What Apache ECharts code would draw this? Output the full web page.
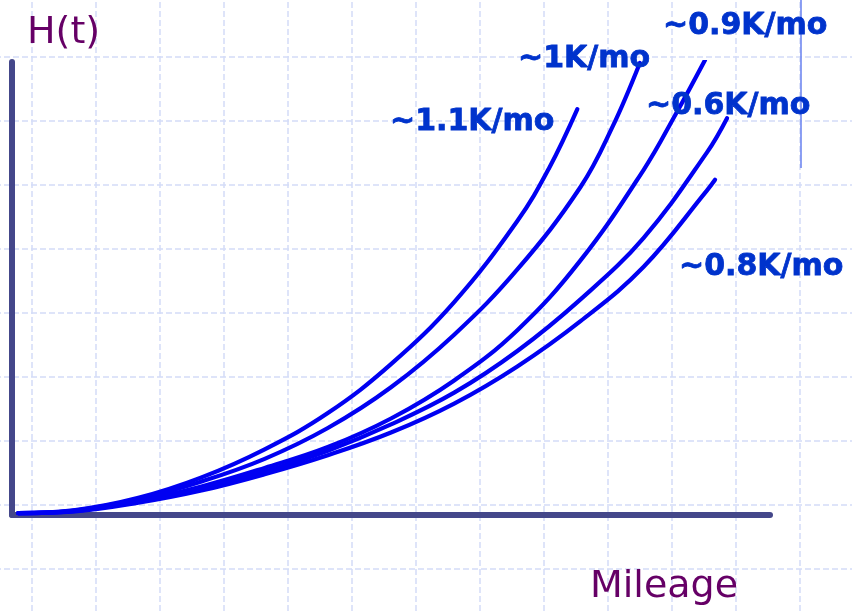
<!DOCTYPE html>
<html>
<head>
<meta charset="utf-8">
<script src="https://cdn.jsdelivr.net/npm/echarts@6/dist/echarts.min.js"></script>
<style>
html,body{margin:0;padding:0;background:#fff;}
#chart{width:852px;height:612px;}
</style>
</head>
<body>
<div id="chart"></div>
<script>
// ---- data (arbitrary units) ----
const seriesNames = ['~1.1K/mo', '~1K/mo', '~0.9K/mo', '~0.6K/mo', '~0.8K/mo'];

const mileageA = [0.1, 1, 2, 3, 4, 5, 6, 7, 8, 8.5, 8.95];
const hazardA  = [0.04, 0.11, 0.38, 0.83, 1.45, 2.25, 3.33, 4.70, 6.49, 7.65, 8.96];

const mileageB = [0.1, 1, 2, 3, 4, 5, 6, 7, 8, 9, 9.5, 9.94];
const hazardB  = [0.04, 0.10, 0.35, 0.74, 1.24, 1.92, 2.82, 3.98, 5.42, 7.24, 8.55, 9.98];

const mileageC = [0.1, 1, 2, 3, 4, 5, 6, 7, 8, 9, 10, 10.5, 10.97];
const hazardC  = [0.04, 0.09, 0.31, 0.63, 1.04, 1.50, 2.13, 2.97, 4.08, 5.62, 7.62, 8.83, 10.04];

const mileageD = [0.1, 1, 2, 3, 4, 5, 6, 7, 8, 9, 10, 11, 11.32];
const hazardD  = [0.04, 0.09, 0.29, 0.58, 0.96, 1.42, 2.00, 2.70, 3.62, 4.76, 6.12, 8.00, 8.76];

const mileageE = [0.1, 1, 2, 3, 4, 5, 6, 7, 8, 9, 10, 11, 11.13];
const hazardE  = [0.04, 0.08, 0.27, 0.54, 0.90, 1.32, 1.82, 2.46, 3.28, 4.28, 5.48, 7.16, 7.40];

const xAxisTitle = 'Mileage';
const yAxisTitle = 'H(t)';

// ---- build ----
function pairs(xs, ys) { return xs.map((x, i) => [x, ys[i]]); }
const curves = [
  pairs(mileageA, hazardA),
  pairs(mileageB, hazardB),
  pairs(mileageC, hazardC),
  pairs(mileageD, hazardD),
  pairs(mileageE, hazardE)
];

const labelPos = [
  [390, 122], [518, 59], [663, 26], [646, 106], [679, 267]
];

const lineColor = '#0000f2';
const labelColor = '#0033cc';
const axisColor = '#44478a';
const titleColor = '#660066';

const chart = echarts.init(document.getElementById('chart'), null, {renderer: 'canvas'});

const option = {
  animation: false,
  backgroundColor: '#ffffff',
  grid: [
    {left: -32, top: -7, width: 896, height: 640, outerBoundsMode: 'none', containLabel: false, z: 0},
    {left: 12, top: 62, right: 82, bottom: 97, outerBoundsMode: 'none', containLabel: false}
  ],
  xAxis: [
    {gridIndex: 0, type: 'value', min: 0, max: 14, interval: 1, z: 0,
     axisLine: {show: false}, axisTick: {show: false}, axisLabel: {show: false},
     splitLine: {show: true, lineStyle: {color: '#d3dbf8', width: 1.5, type: [6, 3]}}},
    {gridIndex: 1, type: 'value', min: 0, max: 12, z: 1,
     axisLine: {show: true, lineStyle: {color: axisColor, width: 6}},
     axisTick: {show: false}, axisLabel: {show: false}, splitLine: {show: false}}
  ],
  yAxis: [
    {gridIndex: 0, type: 'value', min: 0, max: 10, interval: 1, z: 0,
     axisLine: {show: false}, axisTick: {show: false}, axisLabel: {show: false},
     splitLine: {show: true, lineStyle: {color: '#d3dbf8', width: 1.5, type: [6, 3]}}},
    {gridIndex: 1, type: 'value', min: 0, max: 10, z: 1,
     axisLine: {show: true, lineStyle: {color: axisColor, width: 6}},
     axisTick: {show: false}, axisLabel: {show: false}, splitLine: {show: false}}
  ],
  series: curves.map((d, i) => ({
    name: seriesNames[i],
    type: 'line',
    xAxisIndex: 1,
    yAxisIndex: 1,
    data: d,
    smooth: 0.4,
    showSymbol: false,
    z: 3,
    lineStyle: {color: lineColor, width: 4.2, cap: 'round'}
  })),
  graphic: [
    {type: 'line', z: 1, shape: {x1: 801, y1: 0, x2: 801, y2: 168},
     style: {stroke: '#7088f0', lineWidth: 1.6}},
    {type: 'text', left: 27, top: 14, z: 5,
     style: {text: yAxisTitle, fill: titleColor, font: '38px "DejaVu Sans"'}},
    {type: 'text', left: 590, top: 568, z: 5,
     style: {text: xAxisTitle, fill: titleColor, font: '38px "DejaVu Sans"'}}
  ].concat(seriesNames.map((n, i) => ({
    type: 'text', x: labelPos[i][0], y: labelPos[i][1], z: 5,
    style: {text: n, fill: labelColor, stroke: labelColor, lineWidth: 0.8,
            font: 'bold 30px "DejaVu Sans"', verticalAlign: 'middle', align: 'left'}
  })))
};
chart.setOption(option);
</script>
</body>
</html>
